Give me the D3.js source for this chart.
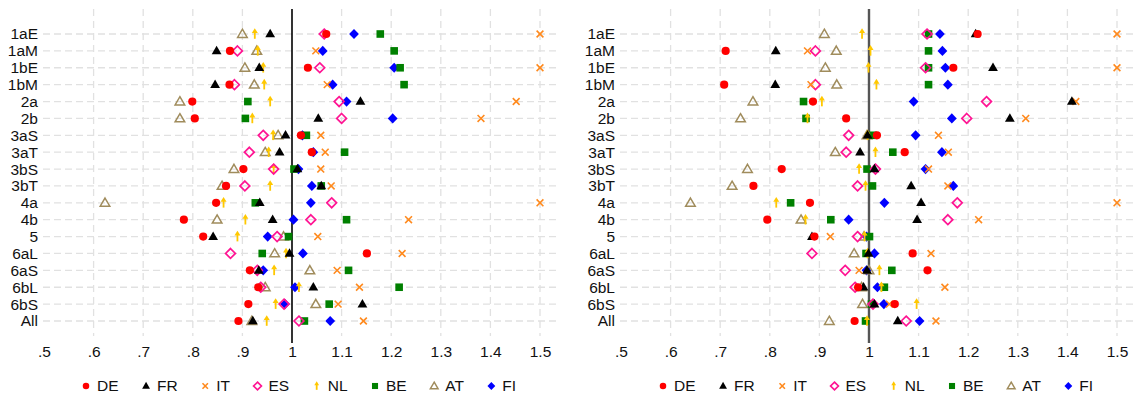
<!DOCTYPE html>
<html>
<head>
<meta charset="utf-8">
<script src="https://cdn.jsdelivr.net/npm/d3@7"></script>
<style>
  html, body { margin: 0; padding: 0; background: #fff; }
  svg { display: block; }
  text { font-family: "Liberation Sans", Arial, Helvetica, sans-serif; fill: #111; }
</style>
</head>
<body>
<svg id="chart" width="1137" height="406"></svg>
<script>
// ---------------- DATA ----------------
const categories = ["1aE","1aM","1bE","1bM","2a","2b","3aS","3aT","3bS","3bT","4a","4b","5","6aL","6aS","6bL","6bS","All"];
const countries = ["DE","FR","IT","ES","NL","BE","AT","FI"];
const xTickValues = [0.5,0.6,0.7,0.8,0.9,1.0,1.1,1.2,1.3,1.4,1.5];
const xTickLabels = [".5",".6",".7",".8",".9","1","1.1","1.2","1.3","1.4","1.5"];

// Left panel
const leftDE = [1.069,0.875,1.032,0.874,0.799,0.804,1.018,1.040,0.902,0.867,0.847,0.782,0.821,1.151,0.915,0.932,0.912,0.892];
const leftFR = [0.956,0.848,0.934,0.845,1.138,1.053,0.987,0.975,1.011,1.059,0.935,0.961,0.841,0.995,0.933,1.043,1.142,0.921];
const leftIT = [1.500,1.048,1.500,1.071,1.452,1.381,1.058,1.067,1.058,1.079,1.500,1.235,1.052,1.222,1.091,1.136,1.093,1.144];
const leftES = [1.065,0.890,1.056,0.884,1.095,1.100,0.942,0.914,0.963,0.905,1.080,1.038,0.970,0.876,0.930,0.937,0.984,1.014];
const leftNL = [0.925,0.931,0.942,0.944,0.956,0.920,0.962,0.953,0.963,0.956,0.862,0.906,0.890,0.988,0.964,1.014,0.967,0.949];
const leftBE = [1.178,1.206,1.218,1.226,0.911,0.906,1.029,1.106,1.004,1.059,0.926,1.110,0.993,0.940,1.114,1.216,1.075,1.025];
const leftAT = [0.900,0.929,0.905,0.924,0.774,0.774,0.972,0.946,0.883,0.859,0.623,0.849,0.983,0.965,1.036,0.946,1.048,0.919];
const leftFI = [1.125,1.062,1.206,1.082,1.110,1.203,1.021,1.043,1.013,1.040,1.038,1.003,0.951,1.022,0.942,1.006,0.986,1.077];

// Right panel
const rightDE = [1.219,0.711,1.170,0.708,0.887,0.954,1.016,1.072,0.824,0.767,0.881,0.795,0.890,1.088,1.118,0.978,1.052,0.971];
const rightFR = [1.215,0.812,1.250,0.811,1.409,1.284,0.997,0.982,1.011,1.085,1.105,1.097,0.885,0.999,0.996,0.989,1.011,1.058];
const rightIT = [1.500,0.876,1.500,0.883,1.417,1.316,1.140,1.160,1.120,1.159,1.500,1.221,0.922,1.125,0.980,1.153,1.041,1.135];
const rightES = [1.117,0.892,1.114,0.892,1.237,1.197,0.959,0.954,1.013,0.977,1.178,1.159,0.977,0.885,0.952,0.972,1.008,1.075];
const rightNL = [0.986,1.003,0.999,1.015,0.905,0.876,0.997,1.013,0.980,0.993,0.813,0.872,0.991,0.997,1.021,1.025,1.096,0.996];
const rightBE = [1.120,1.120,1.120,1.120,0.868,0.873,1.008,1.048,0.996,1.007,0.842,0.923,1.001,0.994,1.046,1.031,1.005,0.993];
const rightAT = [0.910,0.934,0.912,0.935,0.766,0.741,0.996,0.932,0.755,0.724,0.640,0.863,0.990,0.970,1.000,0.985,0.987,0.920];
const rightFI = [1.143,1.148,1.154,1.159,1.090,1.167,1.094,1.147,1.114,1.170,1.031,0.959,0.995,1.011,0.995,1.017,1.030,1.102];

const panels = [
  { offset: 0,   refColor: "#000", refWidth: 1.6,
    series: { DE: leftDE, FR: leftFR, IT: leftIT, ES: leftES, NL: leftNL, BE: leftBE, AT: leftAT, FI: leftFI } },
  { offset: 577, refColor: "#555", refWidth: 2.4,
    series: { DE: rightDE, FR: rightFR, IT: rightIT, ES: rightES, NL: rightNL, BE: rightBE, AT: rightAT, FI: rightFI } }
];

// ---------------- STYLE ----------------
const colors = { DE: "#ff0000", FR: "#000000", IT: "#ff8a1e", ES: "#ff1493", NL: "#ffc800", BE: "#008000", AT: "#a08c5c", FI: "#0000ff" };
const drawOrder = ["FI","AT","BE","NL","ES","IT","FR","DE"];

function drawMarker(g, key, s) {
  const c = colors[key];
  switch (key) {
    case "DE": g.append("circle").attr("r", 4.1*s).attr("fill", c); break;
    case "FR": g.append("path").attr("d", `M0,${-5.2*s}L${4.9*s},${3.3*s}L${-4.9*s},${3.3*s}Z`).attr("fill", c); break;
    case "IT": g.append("path").attr("d", `M${-3.4*s},${-3.4*s}L${3.4*s},${3.4*s}M${-3.4*s},${3.4*s}L${3.4*s},${-3.4*s}`).attr("stroke", c).attr("stroke-width", 1.6).attr("fill","none"); break;
    case "ES": g.append("path").attr("d", `M0,${-4.9*s}L${4.9*s},0L0,${4.9*s}L${-4.9*s},0Z`).attr("stroke", c).attr("stroke-width", 1.7).attr("fill","none"); break;
    case "NL":
      g.append("path").attr("d", `M0,${-5.8*s}L${3*s},${-1*s}L${-3*s},${-1*s}Z`).attr("fill", c);
      g.append("line").attr("x1",0).attr("x2",0).attr("y1",-2*s).attr("y2",4.8*s).attr("stroke", c).attr("stroke-width", 1.8);
      break;
    case "BE": g.append("rect").attr("x",-3.8*s).attr("y",-3.8*s).attr("width",7.6*s).attr("height",7.6*s).attr("fill", c); break;
    case "AT": g.append("path").attr("d", `M0,${-4.8*s}L${4.8*s},${3.4*s}L${-4.8*s},${3.4*s}Z`).attr("stroke", c).attr("stroke-width", 1.5).attr("fill","none"); break;
    case "FI": g.append("path").attr("d", `M0,${-5.1*s}L${4.9*s},0L0,${5.1*s}L${-4.9*s},0Z`).attr("fill", c); break;
  }
}

// ---------------- DRAW ----------------
const svg = d3.select("#chart");
const plotTop = 9, plotBottom = 340;
const y = d3.scalePoint().domain(categories).range([34, 321]);

panels.forEach(p => {
  const o = p.offset;
  const x = d3.scaleLinear().domain([0.5, 1.5]).range([44 + o, 540 + o]);
  const g = svg.append("g");

  // horizontal grid lines
  g.append("g").selectAll("line").data(categories).join("line")
    .attr("x1", 43 + o).attr("x2", 558 + o)
    .attr("y1", d => y(d)).attr("y2", d => y(d))
    .attr("stroke", "#e1e1e1").attr("stroke-width", 1.3).attr("stroke-dasharray", "7,4");

  // vertical grid lines (skip .5 and 1)
  g.append("g").selectAll("line").data(xTickValues.filter(v => v > 0.55 && Math.abs(v - 1) > 1e-9)).join("line")
    .attr("x1", d => x(d)).attr("x2", d => x(d))
    .attr("y1", plotTop).attr("y2", plotBottom - 4)
    .attr("stroke", "#e1e1e1").attr("stroke-width", 1.3).attr("stroke-dasharray", "7,5");

  // reference line at 1
  g.append("line").attr("x1", x(1)).attr("x2", x(1)).attr("y1", plotTop).attr("y2", plotBottom + 3)
    .attr("stroke", p.refColor).attr("stroke-width", p.refWidth);

  // y axis labels
  const yAxis = d3.axisLeft(y).tickSize(0).tickPadding(0);
  const ya = g.append("g").attr("transform", `translate(${38 + o},0)`).call(yAxis);
  ya.select(".domain").remove();
  ya.selectAll("text").attr("font-size", 15.5).style("font-family", '"Liberation Sans", Arial, sans-serif').attr("fill", "#111");

  // x axis labels
  const xAxis = d3.axisBottom(x).tickValues(xTickValues).tickSize(0).tickPadding(5)
    .tickFormat((d, i) => xTickLabels[i]);
  const xa = g.append("g").attr("transform", `translate(0,${341})`).call(xAxis);
  xa.select(".domain").remove();
  xa.selectAll("text").attr("font-size", 15.5).style("font-family", '"Liberation Sans", Arial, sans-serif').attr("fill", "#111");

  // markers
  drawOrder.forEach(key => {
    const vals = p.series[key];
    categories.forEach((cat, i) => {
      const mg = g.append("g").attr("transform", `translate(${x(vals[i])},${y(cat)})`);
      drawMarker(mg, key, 1);
    });
  });

  // legend
  const lg = g.append("g").attr("transform", `translate(0,386)`);
  let lx = 86 + o;
  countries.forEach(key => {
    const mg = lg.append("g").attr("transform", `translate(${lx},0)`);
    drawMarker(mg, key, 0.8);
    const t = lg.append("text").attr("x", lx + 11).attr("y", 0).attr("dy", "0.35em")
      .attr("font-size", 15.5).text(key);
    const w = t.node().getComputedTextLength();
    lx = lx + 11 + w + 27.5;
  });
});
</script>
</body>
</html>
